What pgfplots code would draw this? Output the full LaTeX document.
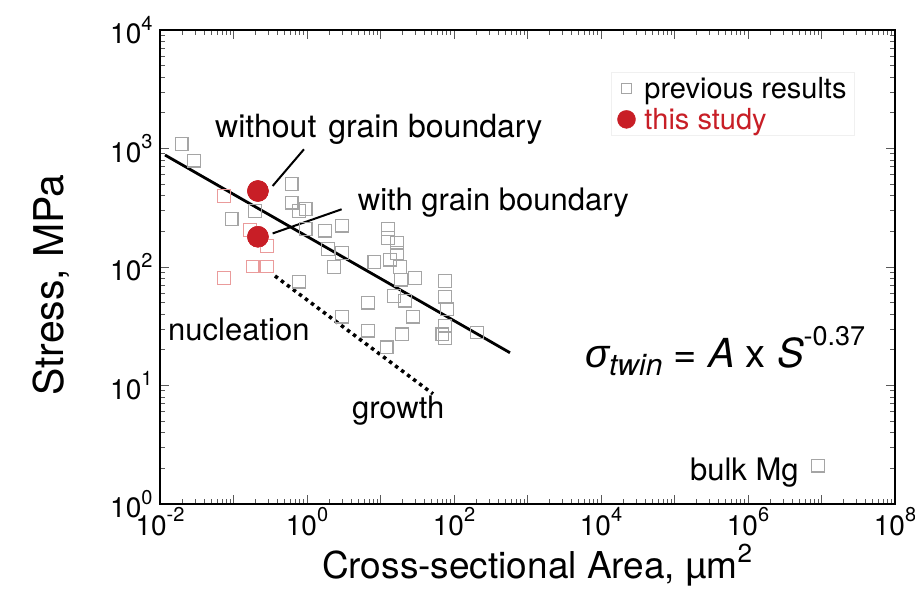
\documentclass[border=0pt]{standalone}
\usepackage{fontspec}
\setmainfont{TeX Gyre Heros}
\newfontfamily\lib{Liberation Sans}
\usepackage{pgfplots}
\pgfplotsset{compat=1.18}
\definecolor{gsq}{RGB}{165,165,165}
\definecolor{rsq}{RGB}{234,155,155}
\definecolor{rdot}{RGB}{200,30,38}
\newcommand{\fs}[1]{\fontsize{#1}{#1}\selectfont}
\newcommand{\tl}[1]{10\raisebox{0.48em}{\fs{20}#1}}

\pgfplotstableread{
x y
0.0197 1091
0.029 789
0.0946 254
0.196 297
0.62 501
0.62 349
0.778 297
0.96 309
0.96 209
0.778 75
1.76 202
2.99 223
1.93 142
2.99 131
2.33 100
12.6 209
12.6 176
16.8 160
16.8 131
8.2 110
13.5 115
18.4 100
29.4 81
19 78
15.3 57
21.5 52
6.76 50
2.99 38
27.7 38
6.76 29
19.6 27
12.2 21
75.5 76
75.5 56
80 44
75.5 32
75.5 25
69 27
206 28
8.96e6 2.1
}\prevdata

\pgfplotstableread{
x y
0.0743 397
0.168 205
0.286 150
0.182 101
0.286 101
0.0743 81
}\redsq

\pgfplotstableread{
x y
0.215 438
0.215 180
}\thisstudy

\begin{document}
\begin{tikzpicture}
\useasboundingbox (-160pt,-88pt) rectangle (755pt,504pt);
\begin{axis}[
  at={(0,0)}, anchor=south west,
  scale only axis, width=735pt, height=474pt,
  xmode=log, ymode=log,
  xmin=1e-2, xmax=1e8, ymin=1, ymax=1e4,
  xtick={1e-2,1e-1,1,1e1,1e2,1e3,1e4,1e5,1e6,1e7,1e8},
  xticklabels={\tl{-2},,\tl{0},,\tl{2},,\tl{4},,\tl{6},,\tl{8}},
  ytick={1,10,100,1000,10000},
  yticklabels={\tl{0},\tl{1},\tl{2},\tl{3},\tl{4}},
  ticklabel style={font=\fs{28}},
  xticklabel style={yshift=0pt},
  yticklabel style={xshift=-4pt},
  axis line style={line width=2.4pt},
  major tick length=9pt, minor tick length=5pt,
  every tick/.style={black!65, line width=0.9pt},
  xlabel={Cross-sectional Area, {\lib µ}m\raisebox{0.44em}{\fs{26}2}},
  ylabel={Stress, MPa},
  xlabel style={font=\fs{37}, at={(axis description cs:0.513,-0.158)}, anchor=base, inner sep=0pt},
  ylabel style={font=\fs{41}, at={(axis description cs:-0.148,0.462)}, anchor=center},
  legend cell align=left,
  legend style={at={(rel axis cs:0.614,0.911)}, anchor=north west, draw=black!6, fill=white,
    font=\fs{29}, row sep=4pt, inner xsep=6pt, inner ysep=3pt,
    /tikz/every odd column/.append style={column sep=7pt}},
  clip=false,
]
\addplot[only marks, mark=square, mark size=6.3pt, draw=gsq, mark options={line width=1.3pt, draw=gsq},
  legend image post style={mark size=5pt}] table {\prevdata};
\addlegendentry{previous results}
\addplot[only marks, mark=*, mark size=10.5pt, draw=rdot, fill=rdot,
  legend image post style={mark size=9pt}] table {\thisstudy};
\addlegendentry{\textcolor{rdot}{this study}}
\addplot[forget plot, only marks, mark=square, mark size=6.3pt, draw=rsq, mark options={line width=1.3pt, draw=rsq}] table {\redsq};
% fit line
\addplot[forget plot, black, line width=2.8pt] coordinates {(0.0117,881) (578,18.9)};
% growth (dotted)
\addplot[forget plot, black, line width=3.5pt, dash pattern=on 3.5pt off 4pt] coordinates {(0.367,84) (51.8,8.5)};
% pointer lines
\addplot[forget plot, black, line width=2pt] coordinates {(0.341,483) (0.91,985)};
\addplot[forget plot, black, line width=2pt] coordinates {(0.341,192) (2.96,307)};
% redraw red circles over pointer lines
\addplot[forget plot, only marks, mark=*, mark size=10.5pt, draw=rdot, fill=rdot] table {\thisstudy};

\node[anchor=base west, font=\fs{32}, inner sep=0pt] at (rel axis cs:0.0748,0.774) {without\hspace{3pt} grain boundary};
\node[anchor=base west, font=\fs{31}, inner sep=0pt] at (rel axis cs:0.269,0.620) {with grain boundary};
\node[anchor=base west, font=\fs{31}, inner sep=0pt] at (rel axis cs:0.0109,0.346) {nucleation};
\node[anchor=base west, font=\fs{31}, inner sep=0pt] at (rel axis cs:0.261,0.181) {growth};
\node[anchor=base west, font=\fs{31}, inner sep=0pt] at (rel axis cs:0.721,0.0506) {bulk Mg};
\node[anchor=base west, font=\fs{40}, inner sep=0pt] at (rel axis cs:0.578,0.289)
  {{\lib\itshape σ}\raisebox{-0.2em}{\fs{30}\itshape twin} = {\itshape A} x {\itshape S}\raisebox{0.55em}{\fs{27}-0.37}};
\end{axis}
\end{tikzpicture}
\end{document}
